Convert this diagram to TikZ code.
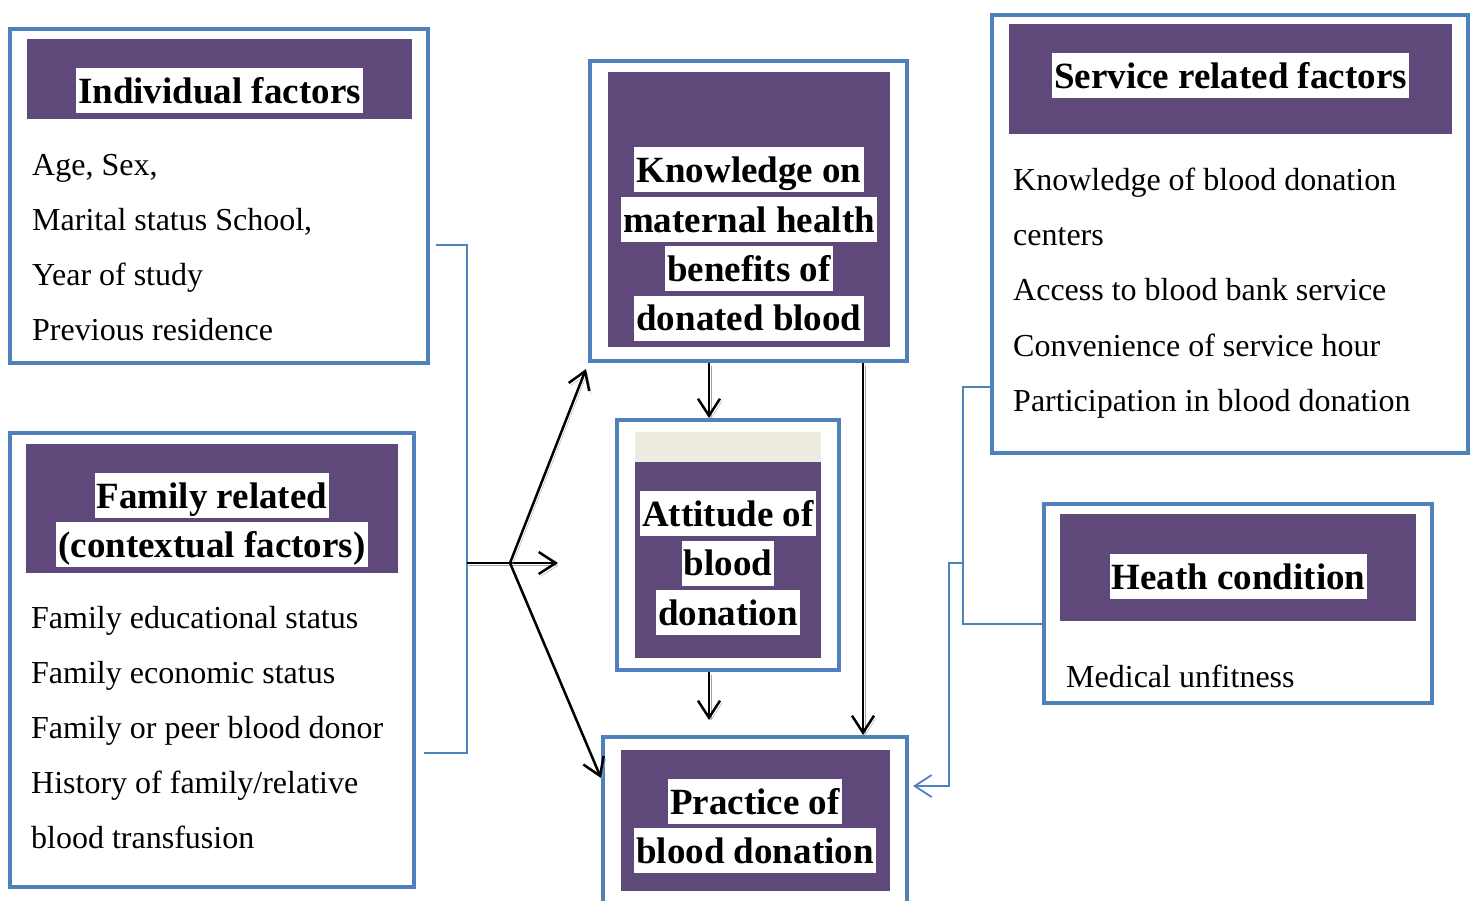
\documentclass[tikz,border=0pt]{standalone}
\usepackage{fontspec}
\setmainfont{Liberation Serif}
\usetikzlibrary{arrows.meta, calc}

\definecolor{boxblue}{HTML}{4F81BD}
\definecolor{headpurple}{HTML}{5F497A}
\definecolor{headbeige}{HTML}{EEECE1}

\begin{document}
\begin{tikzpicture}[
  x=1pt, y=-1pt,
  outerbox/.style={rectangle, draw=boxblue, line width=4pt, inner sep=0pt},
  head/.style={rectangle, fill=headpurple, inner sep=0pt},
  headtext/.style={fill=white, inner xsep=2pt, inner ysep=0pt, text height=35pt, text depth=10pt,
    font=\fontsize{37}{45}\selectfont\bfseries},
  item/.style={anchor=base west, inner sep=0pt, font=\fontsize{32}{38}\selectfont},
  link/.style={draw=boxblue, line width=1.8pt},
  flow/.style={draw=black, line width=2.5pt,
    preaction={draw=black!35, transform canvas={shift={(2pt,-2.5pt)}}}},
  >={Straight Barb[length=17pt, width=22pt]}
]
  \useasboundingbox (0,0) rectangle (1473,900);

  % Individual factors
  \node[outerbox, minimum width=418pt, minimum height=334pt] (indiv) at (219,196) {};
  \node[head, minimum width=385pt, minimum height=80pt] (indivhead) at (219.5,79) {};
  \node[headtext] (indivtitle) at (219.5,90.5) {Individual factors};
  \foreach \txt [count=\i] in {{Age, Sex,}, {Marital status School,}, {Year of study},
      {Previous residence}}
    \node[item] (indiv-\i) at (32,120+55*\i) {\txt};

  % Family related factors
  \node[outerbox, minimum width=404pt, minimum height=454pt] (family) at (212,660) {};
  \node[head, minimum width=372pt, minimum height=129pt] (familyhead) at (212,508.5) {};
  \node[headtext] (familytitle1) at (212,495.5) {Family related};
  \node[headtext] (familytitle2) at (212,544.5) {(contextual factors)};
  \foreach \txt [count=\i] in {{Family educational status}, {Family economic status},
      {Family or peer blood donor}, {History of family/relative}, {blood transfusion}}
    \node[item] (family-\i) at (31,573+55*\i) {\txt};

  % Knowledge
  \node[outerbox, minimum width=317pt, minimum height=300pt] (know) at (748.5,211) {};
  \node[head, minimum width=282pt, minimum height=275pt] (knowhead) at (749,209.5) {};
  \node[headtext] (knowtitle1) at (749,169.5) {Knowledge on};
  \node[headtext] (knowtitle2) at (749,219.5) {maternal health};
  \node[headtext] (knowtitle3) at (749,268.5) {benefits of};
  \node[headtext] (knowtitle4) at (749,318) {donated blood};

  % Attitude
  \node[outerbox, minimum width=222pt, minimum height=250pt] (att) at (728,545) {};
  \node[rectangle, fill=headbeige, inner sep=0pt, minimum width=186pt, minimum height=30pt]
    (attstrip) at (728,447) {};
  \node[head, minimum width=186pt, minimum height=196pt] (atthead) at (728,560) {};
  \node[headtext] (atttitle1) at (728,513.5) {Attitude of};
  \node[headtext] (atttitle2) at (728,563) {blood};
  \node[headtext] (atttitle3) at (728,612.5) {donation};

  % Practice
  \node[outerbox, minimum width=304pt, minimum height=223pt] (prac) at (755,848.5) {};
  \node[head, minimum width=269pt, minimum height=141pt] (prachead) at (755.5,820.5) {};
  \node[headtext] (practitle1) at (755,801.5) {Practice of};
  \node[headtext] (practitle2) at (755,850.5) {blood donation};

  % Service related factors
  \node[outerbox, minimum width=476pt, minimum height=438pt] (serv) at (1230,234) {};
  \node[head, minimum width=443pt, minimum height=110pt] (servhead) at (1230.5,79) {};
  \node[headtext] (servtitle) at (1230.5,75.5) {Service related factors};
  \foreach \txt [count=\i] in {{Knowledge of blood donation}, {centers},
      {Access to blood bank service}, {Convenience of service hour},
      {Participation in blood donation}}
    \node[item] (serv-\i) at (1013,135+55.25*\i) {\txt};

  % Health condition
  \node[outerbox, minimum width=388pt, minimum height=199pt] (heath) at (1238,603.5) {};
  \node[head, minimum width=356pt, minimum height=107pt] (heathhead) at (1238,567.5) {};
  \node[headtext] (heathtitle) at (1238.5,576.5) {Heath condition};
  \node[item] (heath-1) at (1066,687) {Medical unfitness};

  % left bracket and fork
  \coordinate (ltop) at (436,245);
  \coordinate (lbot) at (424,753);
  \coordinate (ljoin) at (467,563);
  \coordinate (fork) at (510,563);
  \coordinate (mid) at (558,563);
  \draw[link] (ltop) -| (lbot -| ljoin) -- (lbot);
  \draw[flow] (ljoin) -- (fork);
  \draw[flow, ->] (fork) -- (mid);
  \draw[flow, ->] (fork) -- ([xshift=-2pt, yshift=-6pt]know.south west);
  \draw[flow, ->] (fork) -- ([yshift=-43pt]prac.north west);

  % central arrows
  \coordinate (attout) at (709,720);
  \draw[flow, ->] ([xshift=-39.5pt]know.south) -- ([xshift=-19pt]att.north);
  \draw[flow, ->] ([xshift=-19pt]att.south) -- (attout);
  \draw[flow, ->] ([xshift=114.5pt]know.south) -- ([xshift=108pt]prac.north);

  % right bracket
  \coordinate (rjoin) at (963,563);
  \coordinate (rbend) at (949,563);
  \draw[link] ([yshift=-153pt]serv.west) -| ([yshift=-20.5pt]heath.west -| rjoin)
    -- ([yshift=-20.5pt]heath.west);
  \draw[link, ->] (rjoin) -- (rbend) |- ([xshift=4pt, yshift=62.5pt]prac.east);
\end{tikzpicture}
\end{document}
